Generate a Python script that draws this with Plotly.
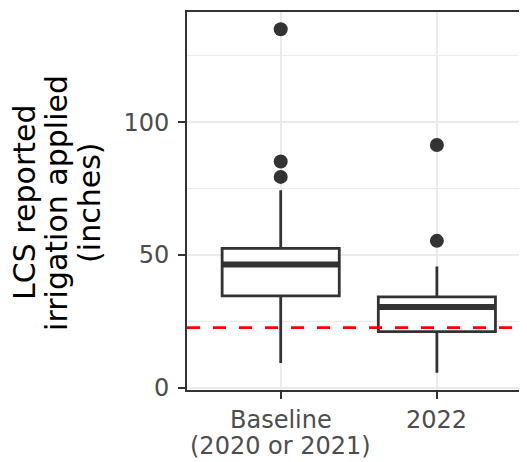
import plotly.graph_objects as go

# ---- data ----
categories = ["Baseline", "2022"]
category_sublabels = ["(2020 or 2021)", ""]
q1 = [34.6, 21.1]
median = [46.4, 30.4]
q3 = [52.5, 34.2]
lower_whisker = [9.3, 5.6]
upper_whisker = [74.4, 45.6]
outliers = [[135.0, 85.2, 79.4], [91.4, 55.3]]
target_line = 22.6
y_major_ticks = [0, 50, 100]
y_minor_ticks = [25, 75, 125]
title_lines = ["LCS reported", "irrigation applied", "(inches)"]

# ---- style ----
DARK = "#333333"
GRID = "#EBEBEB"
TICK_TXT = "#4D4D4D"
FONT = "DejaVu Sans"
BOX_WIDTH = 0.75

# page has an 8px body margin; compensate so the panel lands where the reference has it
OFF = 8
W, H = 527 - OFF, 462 - OFF
ML, MT = 187 - OFF, 12 - OFF
MB = H - (390 - OFF)
MR = 0

xpos = list(range(len(categories)))
fig = go.Figure()

for i in xpos:
    fig.add_trace(go.Box(
        x=[i], q1=[q1[i]], median=[median[i]], q3=[q3[i]],
        lowerfence=[lower_whisker[i]], upperfence=[upper_whisker[i]],
        width=BOX_WIDTH, fillcolor="white",
        line=dict(color=DARK, width=2.8), whiskerwidth=0,
        boxpoints=False, hoverinfo="skip", showlegend=False,
    ))
    # thicker median bar (ggplot style)
    fig.add_trace(go.Scatter(
        x=[i - BOX_WIDTH / 2, i + BOX_WIDTH / 2], y=[median[i], median[i]],
        mode="lines", line=dict(color=DARK, width=6), showlegend=False,
        hoverinfo="skip",
    ))
    fig.add_trace(go.Scatter(
        x=[i] * len(outliers[i]), y=outliers[i], mode="markers",
        marker=dict(color=DARK, size=14), showlegend=False,
    ))

    # category labels (two tight lines, ggplot spacing)
    fig.add_annotation(text=categories[i], x=i, xref="x", y=0, yref="paper",
                       yanchor="middle", xanchor="center", yshift=-30,
                       showarrow=False,
                       font=dict(family=FONT, size=24, color=TICK_TXT))
    if category_sublabels[i]:
        fig.add_annotation(text=category_sublabels[i], x=i, xref="x", y=0,
                           yref="paper", yanchor="middle", xanchor="center",
                           yshift=-56, showarrow=False,
                           font=dict(family=FONT, size=24, color=TICK_TXT))

fig.add_shape(type="line", xref="x domain", x0=0, x1=1, yref="y",
              y0=target_line, y1=target_line,
              line=dict(color="#FF0000", width=2.8, dash="13px,13px"),
              layer="above")

# y-axis title as separate rotated lines (tight ggplot spacing)
title_centers_px = [25, 57, 90]
for txt, cx in zip(title_lines, title_centers_px):
    fig.add_annotation(text=txt, xref="paper", yref="paper", x=0,
                       y=0.495, xanchor="center", yanchor="middle",
                       xshift=(cx - OFF) - ML, textangle=-90, showarrow=False,
                       font=dict(family=FONT, size=30, color="black"))

fig.update_layout(
    width=W, height=H,
    margin=dict(l=ML, r=MR, t=MT, b=MB, pad=0, autoexpand=False),
    plot_bgcolor="white", paper_bgcolor="white",
    showlegend=False,
    xaxis=dict(
        range=[-0.6, 1.577], tickmode="array", tickvals=xpos,
        showticklabels=False, showgrid=True, gridcolor=GRID, gridwidth=2.2,
        zeroline=False, showline=True, linecolor=DARK, linewidth=1.8,
        mirror=True, ticks="outside", ticklen=7, tickwidth=2,
        tickcolor=DARK, automargin=False,
    ),
    yaxis=dict(
        range=[-0.87, 141.5], tickmode="array", tickvals=y_major_ticks,
        showgrid=True, gridcolor=GRID, gridwidth=2.2,
        minor=dict(tickvals=y_minor_ticks, showgrid=True, gridcolor=GRID,
                   gridwidth=1.3, ticks=""),
        zeroline=False, showline=True, linecolor=DARK, linewidth=1.8,
        mirror=False, ticks="outside", ticklen=7, tickwidth=2,
        tickcolor=DARK, ticklabelstandoff=4, automargin=False,
        tickfont=dict(family=FONT, size=24, color=TICK_TXT),
    ),
)

fig.write_html("out.html")
